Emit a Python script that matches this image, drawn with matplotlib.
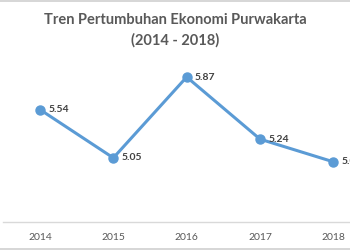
import matplotlib
matplotlib.use("Agg")
import matplotlib.pyplot as plt
from matplotlib.lines import Line2D

years = ["2014", "2015", "2016", "2017", "2018"]
growth = [5.54, 5.05, 5.87, 5.24, 5.01]
labels = ["5.54", "5.05", "5.87", "5.24", "5.01"]

plt.rcParams['font.family'] = ['Lato', 'DejaVu Sans']

fig = plt.figure(figsize=(3.5, 2.5), dpi=100)
ax = fig.add_axes([0.0094, 0.112, 1.048, 0.6312])

x = list(range(len(years)))
ax.plot(x, growth, color="#5B9BD5", linewidth=2.2, marker="o", markersize=6.5,
        markeredgecolor="#5B9BD5", markerfacecolor="#5B9BD5", solid_capstyle="round")

for xi, yi, lab in zip(x, growth, labels):
    ax.annotate(lab, (xi, yi), xytext=(6, 0), textcoords="offset points",
                ha="left", va="center", fontsize=7.5, fontweight="bold", color="#404040")

ax.set_xlim(-0.5, 4.5)
ax.set_ylim(4.4, 6.0)
ax.set_xticks(x)
ax.set_xticklabels(years, fontsize=7.5, color="#595959")
ax.tick_params(axis="x", length=0, pad=8)
ax.set_yticks([])
for s in ["top", "left", "right"]:
    ax.spines[s].set_visible(False)
ax.spines["bottom"].set_color("#D9D9D9")
ax.spines["bottom"].set_linewidth(1)

fig.text(0.5, 0.92, "Tren Pertumbuhan Ekonomi Purwakarta", ha="center", va="center",
         fontsize=10.5, fontweight="bold", color="#595959")
fig.text(0.5, 0.84, "(2014 - 2018)", ha="center", va="center",
         fontsize=10.5, fontweight="bold", color="#595959")

# thin gray frame lines at top and bottom of the image
fig.add_artist(Line2D([0, 1], [0.997, 0.997], transform=fig.transFigure, color="#D0D0D0", linewidth=1.2))
fig.add_artist(Line2D([0, 1], [0.006, 0.006], transform=fig.transFigure, color="#D0D0D0", linewidth=1.2))

fig.savefig("out.png", dpi=100)
